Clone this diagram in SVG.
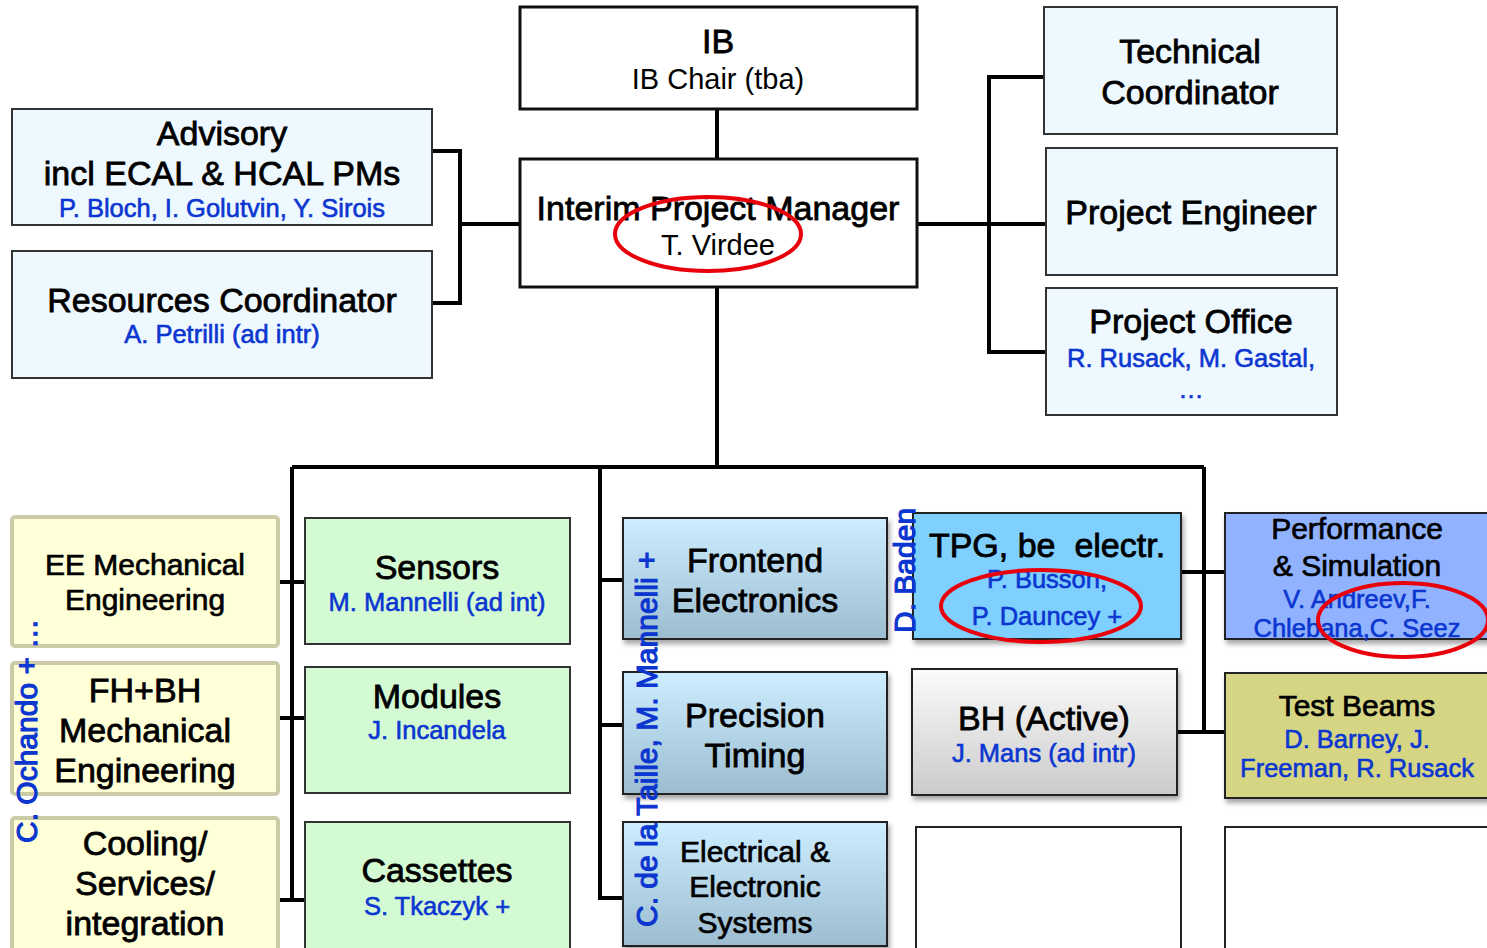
<svg xmlns="http://www.w3.org/2000/svg" width="1487" height="948" viewBox="0 0 1487 948">
<defs>
<linearGradient id="gBlue" x1="0" y1="0" x2="0" y2="1"><stop offset="0" stop-color="#cdeeff"/><stop offset="1" stop-color="#9cbcd0"/></linearGradient>
<linearGradient id="gGray" x1="0" y1="0" x2="0" y2="1"><stop offset="0" stop-color="#fbfbfb"/><stop offset="1" stop-color="#cbcbcb"/></linearGradient>
<filter id="sh" x="-10%" y="-10%" width="130%" height="140%"><feDropShadow dx="2" dy="4" stdDeviation="2.5" flood-color="#000" flood-opacity="0.35"/></filter>
<style>
text{font-family:"Liberation Sans",Arial,sans-serif;text-anchor:middle}
.h{font-size:34px;fill:#000;stroke:#000;stroke-width:0.8}
.h30{font-size:30px;fill:#000;stroke:#000;stroke-width:0.7}
.r{font-size:29px;fill:#000}
.b{font-size:25.5px;fill:#0b36d0;stroke:#0b36d0;stroke-width:0.6}
.v{font-size:30px;fill:#0b36d0;stroke:#0b36d0;stroke-width:1.1;text-anchor:start}
.lb{fill:#eef8ff;stroke:#333;stroke-width:2}
.wb{fill:#fff;stroke:#111;stroke-width:3}
.yb{fill:#ffffd8;stroke:#cbcba8;stroke-width:4}
.gb{fill:#d4fad4;stroke:#333;stroke-width:2}
.eb{fill:#fff;stroke:#222;stroke-width:2}
.ln{fill:none;stroke:#000;stroke-width:4}
.red{fill:none;stroke:#e8000b;stroke-width:4}
</style>
</defs>
<g id="connectors">
<path class="ln" d="M717 109V159"/>
<path class="ln" d="M432 151H460V303H432M460 224H520"/>
<path class="ln" d="M917 224H989M1044 77H989V352H1046M989 224H1046"/>
<path class="ln" d="M717 287V467M292 467H1204"/>
<path class="ln" d="M292 467V900M278 582H305M278 718H305M278 900H305"/>
<path class="ln" d="M600 467V898H623M600 580H623M600 725H623"/>
<path class="ln" d="M1204 467V732M1181 572H1225M1177 732H1225"/>
</g>
<g id="ib"><rect class="wb" x="520" y="7" width="397" height="102"/><text class="h" x="718" y="53">IB</text><text class="r" x="718" y="89">IB Chair (tba)</text></g>
<g id="ipm"><rect class="wb" x="520" y="159" width="397" height="128"/><text class="h" x="718" y="220">Interim Project Manager</text><text class="r" x="718" y="255">T. Virdee</text></g>
<g id="advisory"><rect class="lb" x="12" y="109" width="420" height="116"/><text class="h" x="222" y="145">Advisory</text><text class="h" x="222" y="185">incl ECAL &amp; HCAL PMs</text><text class="b" x="222" y="217">P. Bloch, I. Golutvin, Y. Sirois</text></g>
<g id="resources"><rect class="lb" x="12" y="251" width="420" height="127"/><text class="h" x="222" y="312">Resources Coordinator</text><text class="b" x="222" y="343">A. Petrilli (ad intr)</text></g>
<g id="tc"><rect class="lb" x="1044" y="7" width="293" height="127"/><text class="h" x="1190" y="63">Technical</text><text class="h" x="1190" y="104">Coordinator</text></g>
<g id="pe"><rect class="lb" x="1046" y="148" width="291" height="127"/><text class="h" x="1191" y="224">Project Engineer</text></g>
<g id="po"><rect class="lb" x="1046" y="288" width="291" height="127"/><text class="h" x="1191" y="333">Project Office</text><text class="b" x="1191" y="367">R. Rusack, M. Gastal,</text><text class="b" x="1191" y="398">…</text></g>
<g id="ee"><rect class="yb" x="12" y="517" width="266" height="129" rx="3"/><text class="h30" x="145" y="575">EE Mechanical</text><text class="h30" x="145" y="610">Engineering</text></g>
<g id="fhbh"><rect class="yb" x="12" y="663" width="266" height="131" rx="3"/><text class="h" x="145" y="702">FH+BH</text><text class="h" x="145" y="742">Mechanical</text><text class="h" x="145" y="782">Engineering</text></g>
<g id="cooling"><rect class="yb" x="12" y="818" width="266" height="140" rx="3"/><text class="h" x="145" y="855">Cooling/</text><text class="h" x="145" y="895">Services/</text><text class="h" x="145" y="935">integration</text></g>
<text class="v" transform="translate(37 843) rotate(-90)">C. Ochando + …</text>
<g id="sensors"><rect class="gb" x="305" y="518" width="265" height="126"/><text class="h" x="437" y="579">Sensors</text><text class="b" x="437" y="611">M. Mannelli (ad int)</text></g>
<g id="modules"><rect class="gb" x="305" y="667" width="265" height="126"/><text class="h" x="437" y="708">Modules</text><text class="b" x="437" y="739">J. Incandela</text></g>
<g id="cassettes"><rect class="gb" x="305" y="822" width="265" height="136"/><text class="h" x="437" y="882">Cassettes</text><text class="b" x="437" y="915">S. Tkaczyk +</text></g>
<g id="frontend"><rect x="623" y="518" width="264" height="121" fill="url(#gBlue)" stroke="#222" stroke-width="2" filter="url(#sh)"/><text class="h" x="755" y="572">Frontend</text><text class="h" x="755" y="612">Electronics</text></g>
<g id="timing"><rect x="623" y="672" width="264" height="122" fill="url(#gBlue)" stroke="#222" stroke-width="2" filter="url(#sh)"/><text class="h" x="755" y="727">Precision</text><text class="h" x="755" y="767">Timing</text></g>
<g id="electrical"><rect x="623" y="822" width="264" height="124" fill="url(#gBlue)" stroke="#222" stroke-width="2" filter="url(#sh)"/><text class="h30" x="755" y="862">Electrical &amp;</text><text class="h30" x="755" y="897">Electronic</text><text class="h30" x="755" y="933">Systems</text></g>
<text class="v" transform="translate(657 927) rotate(-90)">C. de la Taille, M. Mannelli +</text>
<g id="tpg"><rect x="913" y="513" width="268" height="126" fill="#7fd0ff" stroke="#222" stroke-width="2" filter="url(#sh)"/><text class="h" x="1047" y="557" xml:space="preserve">TPG, be  electr.</text><text class="b" x="1047" y="588">P. Busson,</text><text class="b" x="1047" y="625">P. Dauncey +</text></g>
<text class="v" transform="translate(915 633) rotate(-90)">D. Baden</text>
<g id="bh"><rect x="912" y="669" width="265" height="126" fill="url(#gGray)" stroke="#222" stroke-width="2" filter="url(#sh)"/><text class="h" x="1044" y="730">BH (Active)</text><text class="b" x="1044" y="762">J. Mans (ad intr)</text></g>
<g id="empty1"><rect class="eb" x="916" y="827" width="265" height="130"/></g>
<g id="perf"><rect x="1225" y="513" width="280" height="126" fill="#91b3ff" stroke="#222" stroke-width="2" filter="url(#sh)"/><text class="h30" x="1357" y="539">Performance</text><text class="h30" x="1357" y="576">&amp; Simulation</text><text class="b" x="1357" y="608">V. Andreev,F.</text><text class="b" x="1357" y="637">Chlebana,C. Seez</text></g>
<g id="testbeams"><rect x="1225" y="673" width="280" height="125" fill="#d6d584" stroke="#222" stroke-width="2" filter="url(#sh)"/><text class="h30" x="1357" y="716">Test Beams</text><text class="b" x="1357" y="748">D. Barney, J.</text><text class="b" x="1357" y="777">Freeman, R. Rusack</text></g>
<g id="empty2"><rect class="eb" x="1225" y="827" width="280" height="130"/></g>
<g id="highlights">
<ellipse class="red" cx="708" cy="234" rx="93" ry="37"/>
<ellipse class="red" cx="1041" cy="606" rx="100" ry="36"/>
<ellipse class="red" cx="1403" cy="620" rx="85" ry="37"/>
</g>
</svg>
